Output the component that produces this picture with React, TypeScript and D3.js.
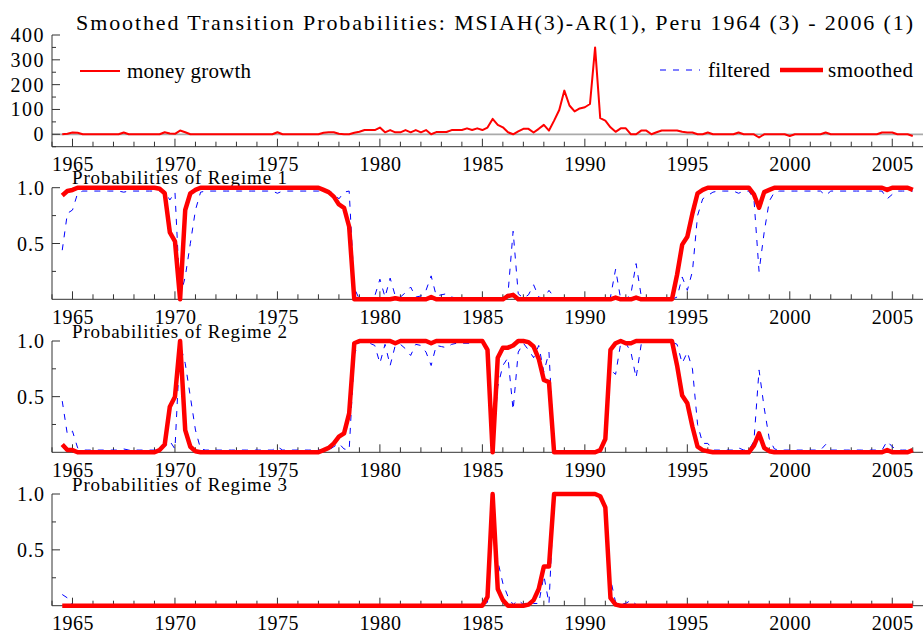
import React from "react";
import * as d3 from "d3";

// Quarterly observations 1964(3) .. 2006(1)
const START_YEAR = 1964;
const START_QUARTER = 3;

const titleText = "Smoothed Transition Probabilities: MSIAH(3)-AR(1), Peru 1964 (3) - 2006 (1)";
const xTickYears = [1965, 1970, 1975, 1980, 1985, 1990, 1995, 2000, 2005];
const moneyTicks = [0, 100, 200, 300, 400];
const probTicks = [0.5, 1.0];
const regimeTitles = ["Probabilities of Regime 1", "Probabilities of Regime 2", "Probabilities of Regime 3"];

const moneyGrowth = [
  0, 2, // 1964
  7, 6, 0, 0, // 1965
  0, 0, 0, 0, // 1966
  0, 0, 7, 0, // 1967
  0, 0, 0, 0, // 1968
  0, 0, 8, 3, // 1969
  2, 15, 8, 0, // 1970
  0, 0, 0, 0, // 1971
  0, 0, 0, 0, // 1972
  0, 0, 0, 0, // 1973
  0, 0, 0, 0, // 1974
  8, 0, 0, 0, // 1975
  0, 0, 0, 0, // 1976
  0, 6, 8, 8, // 1977
  2, 0, 0, 6, // 1978
  10, 17, 17, 17, // 1979
  27, 8, 17, 8, // 1980
  8, 17, 8, 17, // 1981
  8, 17, 0, 9, // 1982
  9, 9, 17, 17, // 1983
  17, 24, 17, 24, // 1984
  17, 27, 62, 38, // 1985
  28, 8, 0, 12, // 1986
  22, 22, 7, 22, // 1987
  38, 15, 55, 98, // 1988
  176, 116, 92, 104, // 1989
  109, 122, 350, 65, // 1990
  55, 28, 10, 24, // 1991
  24, 0, 0, 15, // 1992
  15, 0, 8, 15, // 1993
  15, 15, 15, 10, // 1994
  7, 7, 0, 0, // 1995
  7, 0, 0, 0, // 1996
  0, 0, 7, 0, // 1997
  0, 0, -13, 0, // 1998
  0, 0, 0, 0, // 1999
  -7, 0, 0, 0, // 2000
  0, 0, 0, 7, // 2001
  0, 0, 0, 0, // 2002
  0, 0, 0, 0, // 2003
  0, 0, 7, 7, // 2004
  7, 0, 0, 0, // 2005
  -7, // 2006
];

const regime1Filtered = [
  0.44, 0.77,
  0.80, 0.95, 0.97, 0.97,
  0.97, 0.97, 0.97, 0.97,
  0.97, 0.97, 0.96, 0.97,
  0.97, 0.97, 0.97, 0.97,
  0.97, 0.97, 0.97, 0.89,
  0.96, 0.02, 0.20, 0.50,
  0.80, 0.96, 0.97, 0.97,
  0.97, 0.97, 0.97, 0.97,
  0.97, 0.97, 0.97, 0.97,
  0.97, 0.97, 0.97, 0.97,
  0.95, 0.97, 0.97, 0.97,
  0.97, 0.97, 0.97, 0.97,
  0.97, 0.97, 0.97, 0.95,
  0.90, 0.96, 0.97, 0.10,
  0.00, 0.00, 0.01, 0.03,
  0.18, 0.02, 0.19, 0.03,
  0.02, 0.06, 0.11, 0.02,
  0.03, 0.08, 0.21, 0.03,
  0.04, 0.05, 0.02, 0.01,
  0.01, 0.01, 0.01, 0.00,
  0.00, 0.00, 0.00, 0.00,
  0.01, 0.05, 0.61, 0.05,
  0.01, 0.04, 0.13, 0.02,
  0.01, 0.08, 0.02, 0.00,
  0.00, 0.00, 0.00, 0.00,
  0.00, 0.00, 0.00, 0.00,
  0.00, 0.02, 0.27, 0.00,
  0.00, 0.05, 0.32, 0.03,
  0.01, 0.00, 0.00, 0.00,
  0.00, 0.00, 0.02, 0.20,
  0.08, 0.25, 0.75, 0.90,
  0.93, 0.96, 0.97, 0.97,
  0.97, 0.97, 0.95, 0.97,
  0.97, 0.90, 0.25, 0.60,
  0.88, 0.96, 0.97, 0.97,
  0.97, 0.97, 0.97, 0.97,
  0.97, 0.97, 0.97, 0.93,
  0.97, 0.97, 0.97, 0.97,
  0.97, 0.97, 0.97, 0.97,
  0.97, 0.97, 0.97, 0.90,
  0.94, 0.97, 0.97, 0.97,
  0.97,
];

const regime1Smoothed = [
  0.93, 0.97,
  0.98, 1, 1, 1,
  1, 1, 1, 1,
  1, 1, 1, 1,
  1, 1, 1, 1,
  1, 0.99, 0.95, 0.60,
  0.52, 0.00, 0.80, 0.95,
  0.98, 1, 1, 1,
  1, 1, 1, 1,
  1, 1, 1, 1,
  1, 1, 1, 1,
  1, 1, 1, 1,
  1, 1, 1, 1,
  1, 0.98, 0.96, 0.92,
  0.85, 0.82, 0.65, 0.00,
  0, 0, 0, 0,
  0, 0, 0, 0.01,
  0, 0, 0, 0,
  0, 0, 0.02, 0,
  0, 0, 0, 0,
  0, 0, 0, 0,
  0, 0, 0, 0,
  0, 0.03, 0.04, 0,
  0, 0, 0, 0,
  0, 0, 0, 0,
  0, 0, 0, 0,
  0, 0, 0, 0,
  0, 0, 0.015, 0,
  0, 0, 0.015, 0,
  0, 0, 0, 0,
  0, 0, 0.22, 0.49,
  0.56, 0.77, 0.95, 0.98,
  1, 1, 1, 1,
  1, 1, 1, 1,
  1, 0.94, 0.82, 0.96,
  0.98, 1, 1, 1,
  1, 1, 1, 1,
  1, 1, 1, 1,
  1, 1, 1, 1,
  1, 1, 1, 1,
  1, 1, 1, 0.98,
  1, 1, 1, 1,
  0.98,
];

const regime2Filtered = [
  0.46, 0.16,
  0.19, 0.04, 0.02, 0.02,
  0.02, 0.02, 0.02, 0.02,
  0.02, 0.02, 0.03, 0.02,
  0.02, 0.02, 0.02, 0.02,
  0.02, 0.02, 0.05, 0.10,
  0.03, 0.97, 0.80, 0.50,
  0.20, 0.03, 0.02, 0.02,
  0.02, 0.02, 0.02, 0.02,
  0.02, 0.02, 0.02, 0.02,
  0.02, 0.02, 0.02, 0.02,
  0.05, 0.02, 0.02, 0.02,
  0.02, 0.02, 0.02, 0.02,
  0.02, 0.02, 0.02, 0.05,
  0.08, 0.03, 0.02, 0.88,
  0.99, 0.99, 0.98, 0.96,
  0.80, 0.97, 0.78, 0.96,
  0.97, 0.93, 0.87, 0.97,
  0.96, 0.90, 0.78, 0.96,
  0.95, 0.94, 0.97, 0.98,
  0.98, 0.98, 0.98, 0.99,
  0.99, 0.96, 0.00, 0.59,
  0.78, 0.85, 0.38, 0.90,
  0.98, 0.92, 0.85, 0.96,
  0.72, 0.90, 0.00, 0.00,
  0.00, 0.00, 0.00, 0.00,
  0.00, 0.00, 0.00, 0.00,
  0.10, 0.74, 0.70, 0.98,
  0.98, 0.90, 0.67, 0.97,
  0.99, 0.99, 0.99, 0.99,
  0.99, 0.99, 0.97, 0.80,
  0.90, 0.75, 0.25, 0.08,
  0.08, 0.02, 0.02, 0.02,
  0.02, 0.02, 0.04, 0.02,
  0.02, 0.10, 0.74, 0.40,
  0.12, 0.03, 0.02, 0.02,
  0.02, 0.02, 0.02, 0.02,
  0.02, 0.02, 0.02, 0.07,
  0.02, 0.02, 0.02, 0.02,
  0.02, 0.02, 0.02, 0.02,
  0.02, 0.02, 0.02, 0.10,
  0.05, 0.02, 0.02, 0.02,
  0.02,
];

const regime2Smoothed = [
  0.07, 0.02,
  0.02, 0, 0, 0,
  0, 0, 0, 0,
  0, 0, 0, 0,
  0, 0, 0, 0,
  0, 0.02, 0.07, 0.41,
  0.50, 1.00, 0.20, 0.05,
  0.01, 0, 0, 0,
  0, 0, 0, 0,
  0, 0, 0, 0,
  0, 0, 0, 0,
  0, 0, 0, 0,
  0, 0, 0, 0,
  0, 0.02, 0.04, 0.08,
  0.14, 0.17, 0.35, 0.98,
  1, 1, 1, 1,
  1, 1, 1, 0.98,
  1, 1, 1, 1,
  1, 1, 0.98, 1,
  1, 1, 1, 1,
  1, 1, 1, 1,
  1, 0.92, 0.00, 0.85,
  0.94, 0.94, 0.96, 1,
  1, 0.99, 0.95, 0.84,
  0.65, 0.63, 0.00, 0.00,
  0, 0, 0, 0,
  0, 0, 0, 0.02,
  0.12, 0.92, 0.98, 1,
  0.98, 0.98, 1, 1,
  1, 1, 1, 1,
  1, 1, 0.78, 0.51,
  0.44, 0.23, 0.05, 0.02,
  0.01, 0, 0, 0,
  0, 0, 0, 0,
  0, 0.06, 0.17, 0.04,
  0.01, 0, 0, 0,
  0, 0, 0, 0,
  0, 0, 0, 0,
  0, 0, 0, 0,
  0, 0, 0, 0,
  0, 0, 0, 0.02,
  0, 0, 0, 0,
  0.02,
];

const regime3Filtered = [
  0.10, 0.07,
  0.01, 0.01, 0, 0,
  0, 0, 0, 0,
  0, 0, 0, 0,
  0, 0, 0, 0,
  0, 0, 0, 0,
  0, 0, 0, 0,
  0, 0, 0, 0,
  0, 0, 0, 0,
  0, 0, 0, 0,
  0, 0, 0, 0,
  0, 0, 0, 0,
  0, 0, 0, 0,
  0, 0, 0, 0,
  0, 0, 0, 0,
  0, 0, 0, 0,
  0, 0, 0, 0,
  0, 0, 0, 0,
  0, 0, 0, 0,
  0, 0, 0, 0,
  0, 0, 0, 0,
  0, 0.03, 1.00, 0.40,
  0.20, 0.08, 0.01, 0.05,
  0.01, 0.04, 0.02, 0.02,
  0.27, 0.02, 1.00, 1.00,
  1, 1, 1, 1,
  1, 1, 1, 1,
  0.90, 0.24, 0.03, 0.02,
  0.02, 0.05, 0.01, 0,
  0, 0, 0, 0,
  0, 0, 0, 0,
  0, 0, 0, 0,
  0, 0, 0, 0,
  0, 0, 0, 0,
  0, 0, 0, 0,
  0, 0, 0, 0,
  0, 0, 0, 0,
  0, 0, 0, 0,
  0, 0, 0, 0,
  0, 0, 0, 0,
  0, 0, 0, 0,
  0, 0, 0, 0,
  0,
];

const regime3Smoothed = [
  0, 0,
  0, 0, 0, 0,
  0, 0, 0, 0,
  0, 0, 0, 0,
  0, 0, 0, 0,
  0, 0, 0, 0,
  0, 0, 0, 0,
  0, 0, 0, 0,
  0, 0, 0, 0,
  0, 0, 0, 0,
  0, 0, 0, 0,
  0, 0, 0, 0,
  0, 0, 0, 0,
  0, 0, 0, 0,
  0, 0, 0, 0,
  0, 0, 0, 0,
  0, 0, 0, 0,
  0, 0, 0, 0,
  0, 0, 0, 0,
  0, 0, 0, 0,
  0, 0, 0, 0,
  0, 0.08, 1.00, 0.15,
  0.05, 0, 0, 0,
  0, 0.01, 0.05, 0.15,
  0.35, 0.35, 1.00, 1.00,
  1, 1, 1, 1,
  1, 1, 1, 0.98,
  0.88, 0.07, 0.01, 0,
  0, 0, 0, 0,
  0, 0, 0, 0,
  0, 0, 0, 0,
  0, 0, 0, 0,
  0, 0, 0, 0,
  0, 0, 0, 0,
  0, 0, 0, 0,
  0, 0, 0, 0,
  0, 0, 0, 0,
  0, 0, 0, 0,
  0, 0, 0, 0,
  0, 0, 0, 0,
  0, 0, 0, 0,
  0, 0, 0, 0,
  0,
];

const FONT = '"Liberation Serif", "Times New Roman", Times, serif';
const RED = "#ff0000";
const BLUE = "#0000ff";
const AXIS = "#333333";

const W = 924;
const H = 633;
const X0 = 52;
const X1 = 923;

const dateOf = (i: number) => START_YEAR + (START_QUARTER - 1 + i) / 4;

const x = d3.scaleLinear().domain([1964, 2006.5]).range([X0, X1]);
const yearTicks = d3.range(1964, 2007);

const textStyle = (size: number, spacing = 0): React.CSSProperties => ({
  fontFamily: FONT,
  fontSize: `${size}px`,
  letterSpacing: `${spacing}px`,
});

function XAxis({ y }: { y: number }) {
  return (
    <g>
      <line x1={X0} x2={X1} y1={y} y2={y} stroke={AXIS} strokeWidth={1} />
      {yearTicks.map((yr) => (
        <line
          key={yr}
          x1={x(yr)}
          x2={x(yr)}
          y1={y}
          y2={y - (yr % 5 === 0 ? 8 : 5)}
          stroke={AXIS}
          strokeWidth={1}
        />
      ))}
      {xTickYears.map((yr) => (
        <text
          key={yr}
          x={x(yr) + 0.5}
          y={y + 24.5}
          textAnchor="middle"
          style={textStyle(20, 0.5)}
          fill="#000"
        >
          {yr}
        </text>
      ))}
    </g>
  );
}

function SeriesPath({
  values,
  y,
  stroke,
  width,
  dash,
}: {
  values: number[];
  y: d3.ScaleLinear<number, number>;
  stroke: string;
  width: number;
  dash?: string;
}) {
  const line = d3
    .line<number>()
    .x((_, i) => x(dateOf(i)))
    .y((v) => y(v));
  return (
    <path
      d={line(values) || ""}
      fill="none"
      stroke={stroke}
      strokeWidth={width}
      strokeDasharray={dash}
      strokeLinejoin="round"
    />
  );
}

function ProbPanel({
  top,
  bottom,
  title,
  filtered,
  smoothed,
}: {
  top: number;
  bottom: number;
  title: string;
  filtered: number[];
  smoothed: number[];
}) {
  const y = d3.scaleLinear().domain([0, 1]).range([bottom, top]);
  const minor = [0.25, 0.75];
  return (
    <g>
      <line x1={X0} x2={X0} y1={top} y2={bottom} stroke={AXIS} strokeWidth={1} />
      {probTicks.map((t) => (
        <g key={t}>
          <line x1={X0} x2={X0 + 8} y1={y(t)} y2={y(t)} stroke={AXIS} strokeWidth={1} />
          <text x={45} y={y(t) + 7} textAnchor="end" style={textStyle(20, 1)}>
            {t.toFixed(1)}
          </text>
        </g>
      ))}
      {minor.map((t) => (
        <line key={t} x1={X0} x2={X0 + 4} y1={y(t)} y2={y(t)} stroke={AXIS} strokeWidth={1} />
      ))}
      <XAxis y={bottom} />
      <text x={72} y={top - 3.4} style={textStyle(19)} textLength={215} lengthAdjust="spacing">
        {title}
      </text>
      <SeriesPath values={filtered} y={y} stroke={BLUE} width={1} dash="6,7" />
      <SeriesPath values={smoothed} y={y} stroke={RED} width={4.5} />
    </g>
  );
}

export default function App() {
  const topTop = 35;
  const topBottom = 146.7;
  const yMoney = d3.scaleLinear().domain([-50, 400]).range([topBottom, topTop]);
  const moneyMinor = [-50, 50, 150, 250, 350];

  return (
    <svg
      width={W}
      height={H}
      viewBox={`0 0 ${W} ${H}`}
      style={{ position: "absolute", left: 0, top: 0, background: "#fff", display: "block" }}
    >
      <rect x={0} y={0} width={W} height={H} fill="#fff" />
      <text x={76} y={30} style={textStyle(22)} textLength={837} lengthAdjust="spacing">
        {titleText}
      </text>

      {/* money growth panel */}
      <line x1={X0} x2={X1} y1={yMoney(0)} y2={yMoney(0)} stroke="#aaaaaa" strokeWidth={1.8} />
      <line x1={X0} x2={X0} y1={topTop} y2={topBottom} stroke={AXIS} strokeWidth={1} />
      {moneyTicks.map((t) => (
        <g key={t}>
          <line x1={X0} x2={X0 + 8} y1={yMoney(t)} y2={yMoney(t)} stroke={AXIS} strokeWidth={1} />
          <text x={45} y={yMoney(t) + 7} textAnchor="end" style={textStyle(20, 1.5)}>
            {t}
          </text>
        </g>
      ))}
      {moneyMinor.map((t) => (
        <line key={t} x1={X0} x2={X0 + 4} y1={yMoney(t)} y2={yMoney(t)} stroke={AXIS} strokeWidth={1} />
      ))}
      <XAxis y={topBottom} />
      <SeriesPath values={moneyGrowth} y={yMoney} stroke={RED} width={2} />

      {/* legend */}
      <line x1={80} x2={120} y1={71} y2={71} stroke={RED} strokeWidth={2} />
      <text x={127} y={78} style={textStyle(21)} textLength={124} lengthAdjust="spacing">
        money growth
      </text>
      <line x1={660} x2={700} y1={70} y2={70} stroke={BLUE} strokeWidth={1} strokeDasharray="6,7" />
      <text x={708} y={77} style={textStyle(21)} textLength={62} lengthAdjust="spacing">
        filtered
      </text>
      <line x1={780} x2={823} y1={70} y2={70} stroke={RED} strokeWidth={4.5} />
      <text x={828} y={77} style={textStyle(21)} textLength={85} lengthAdjust="spacing">
        smoothed
      </text>

      <ProbPanel
        top={187.7}
        bottom={299.3}
        title={regimeTitles[0]}
        filtered={regime1Filtered}
        smoothed={regime1Smoothed}
      />
      <ProbPanel
        top={341}
        bottom={452.3}
        title={regimeTitles[1]}
        filtered={regime2Filtered}
        smoothed={regime2Smoothed}
      />
      <ProbPanel
        top={494}
        bottom={605.7}
        title={regimeTitles[2]}
        filtered={regime3Filtered}
        smoothed={regime3Smoothed}
      />
    </svg>
  );
}
